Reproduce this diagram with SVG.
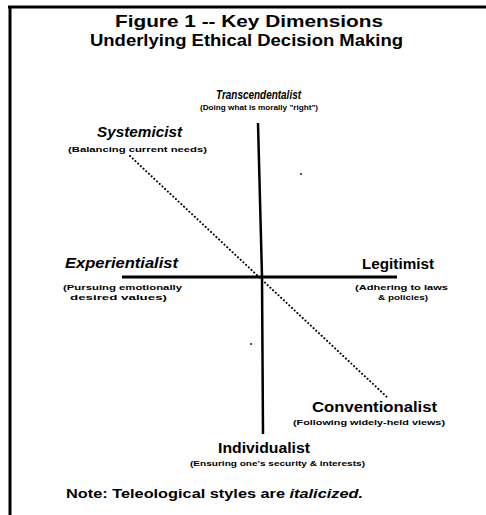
<svg xmlns="http://www.w3.org/2000/svg" width="486" height="515" viewBox="0 0 486 515">
<style>
.t{font-family:"Liberation Sans",Arial,sans-serif;font-weight:bold;fill:#000}
.title{font-size:17px}
.lab{font-size:14px}
.it{font-style:italic}
.sm{font-size:7.5px}
.ax{stroke:#000;fill:none;stroke-linecap:butt}
.dot{stroke:#000;stroke-width:2;stroke-dasharray:0.1 3.6;stroke-linecap:round;fill:none}
</style>
<rect width="486" height="515" fill="#fff"/>
<g id="frame">
<line x1="8" y1="7" x2="486" y2="7" stroke="#000" stroke-width="3"/>
<line x1="10" y1="6" x2="10" y2="515" stroke="#000" stroke-width="3"/>
</g>
<g id="title">
<text class="t title" x="115" y="27" textLength="268" lengthAdjust="spacingAndGlyphs">Figure 1 -- Key Dimensions</text>
<text class="t title" x="90" y="46" textLength="313" lengthAdjust="spacingAndGlyphs">Underlying Ethical Decision Making</text>
</g>
<g id="connectors">
<polyline class="ax" points="258,123 262,277 263,434" stroke-width="2.5"/>
<line class="ax" x1="122" y1="277" x2="397" y2="277" stroke-width="3"/>
<line class="dot" x1="130" y1="156" x2="388" y2="398"/>
</g>
<g id="transcendentalist">
<text class="t it" font-size="12" x="216" y="99" textLength="85" lengthAdjust="spacingAndGlyphs">Transcendentalist</text>
<text class="t sm" x="200" y="110" textLength="118" lengthAdjust="spacingAndGlyphs">(Doing what is morally "right")</text>
</g>
<g id="systemicist">
<text class="t lab it" x="97" y="137" textLength="85" lengthAdjust="spacingAndGlyphs">Systemicist</text>
<text class="t sm" x="68" y="152" textLength="139" lengthAdjust="spacingAndGlyphs">(Balancing current needs)</text>
</g>
<g id="experientialist">
<text class="t lab it" x="65" y="268" textLength="113" lengthAdjust="spacingAndGlyphs">Experientialist</text>
<text class="t sm" x="63" y="290" textLength="119" lengthAdjust="spacingAndGlyphs">(Pursuing emotionally</text>
<text class="t sm" x="70" y="300" textLength="97" lengthAdjust="spacingAndGlyphs">desired values)</text>
</g>
<g id="legitimist">
<text class="t lab" x="362" y="269" textLength="72" lengthAdjust="spacingAndGlyphs">Legitimist</text>
<text class="t sm" x="355" y="290" textLength="93" lengthAdjust="spacingAndGlyphs">(Adhering to laws</text>
<text class="t sm" x="378" y="300" textLength="50" lengthAdjust="spacingAndGlyphs">&amp; policies)</text>
</g>
<g id="conventionalist">
<text class="t lab" x="312" y="412" textLength="125" lengthAdjust="spacingAndGlyphs">Conventionalist</text>
<text class="t sm" x="293" y="425" textLength="152" lengthAdjust="spacingAndGlyphs">(Following widely-held views)</text>
</g>
<g id="individualist">
<text class="t lab" x="218" y="453" textLength="92" lengthAdjust="spacingAndGlyphs">Individualist</text>
<text class="t sm" x="190" y="466" textLength="175" lengthAdjust="spacingAndGlyphs">(Ensuring one's security &amp; interests)</text>
</g>
<g id="note">
<text class="t" font-size="12.5" x="66" y="498" textLength="297" lengthAdjust="spacingAndGlyphs">Note: Teleological styles are <tspan class="it">italicized.</tspan></text>
</g>
<g id="specks" fill="#000">
<circle cx="301" cy="174" r="0.9"/>
<circle cx="251" cy="344" r="0.9"/>
</g>
</svg>
